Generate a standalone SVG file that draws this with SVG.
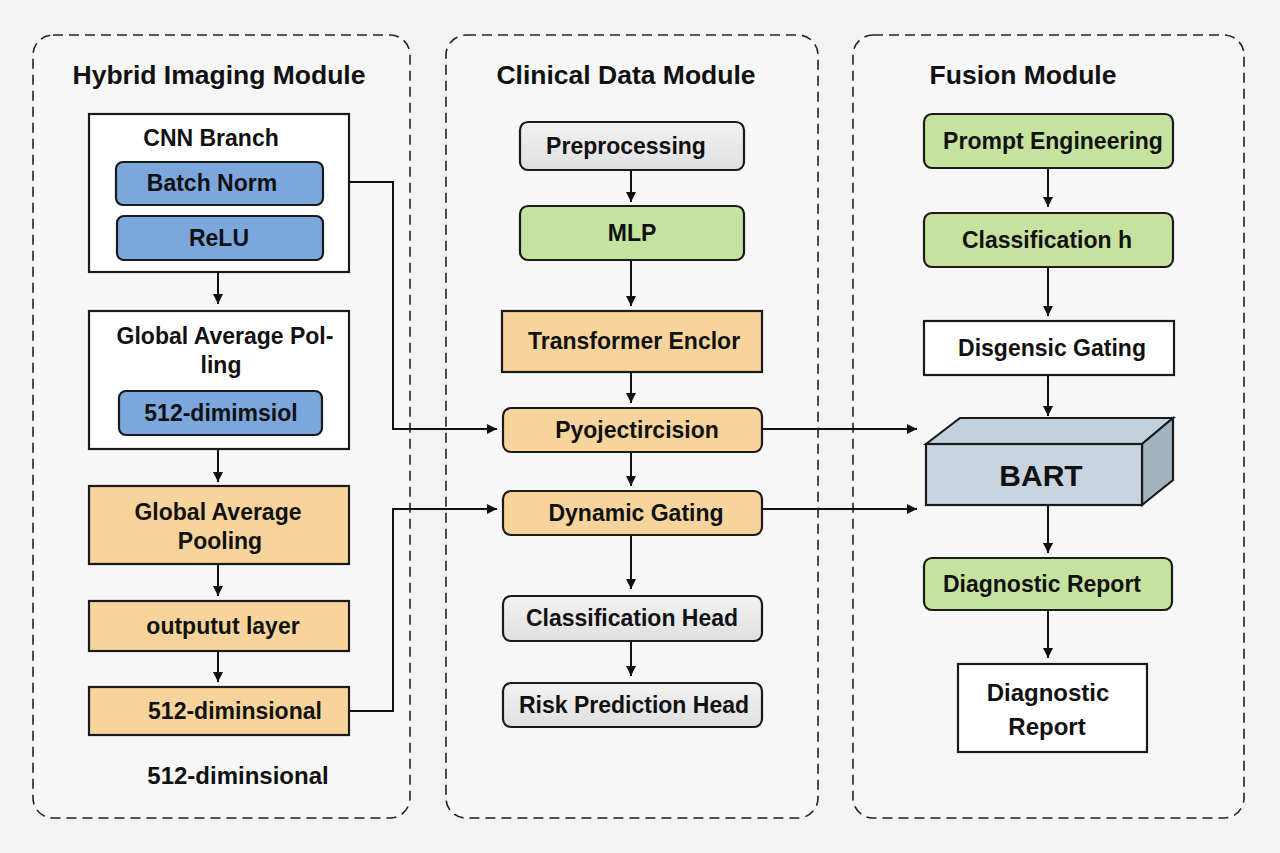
<svg xmlns="http://www.w3.org/2000/svg" width="1280" height="853" viewBox="0 0 1280 853">
<defs>
<style>
.panel{fill:#f7f7f7;stroke:#222;stroke-width:1.6;stroke-dasharray:10 6}
.t{font-family:"Liberation Sans",Arial,sans-serif;font-weight:bold;fill:#111;text-anchor:middle}
.title{font-size:26.5px}
.n{font-size:23px}
.box{stroke:#1a1a1a;stroke-width:2.2}
.white{fill:#ffffff}
.blue{fill:#7ba7dc}
.orange{fill:#f7d49b}
.green{fill:#c5e39f}
.gray{fill:url(#gg)}
.c{fill:none;stroke:#111;stroke-width:2}
</style>
<linearGradient id="gg" x1="0" y1="0" x2="0" y2="1"><stop offset="0" stop-color="#f2f2f2"/><stop offset="1" stop-color="#e0e0e0"/></linearGradient>
<marker id="ah" viewBox="0 0 10 10" refX="10" refY="5" markerWidth="10" markerHeight="10" markerUnits="userSpaceOnUse" orient="auto"><path d="M0,0 L10,5 L0,10 Z" fill="#111"/></marker>
</defs>
<rect width="1280" height="853" fill="#f3f3f3"/>

<g id="panels">
<rect class="panel" x="33" y="35" width="377" height="783" rx="20"/>
<rect class="panel" x="446" y="35" width="372" height="783" rx="20"/>
<rect class="panel" x="853" y="35" width="391" height="783" rx="20"/>
<text class="t title" x="219" y="84">Hybrid Imaging Module</text>
<text class="t title" x="626" y="84">Clinical Data Module</text>
<text class="t title" x="1023" y="84">Fusion Module</text>
</g>

<g id="connectors">
<line class="c" x1="218" y1="273" x2="218" y2="304" marker-end="url(#ah)"/>
<line class="c" x1="218" y1="449" x2="218" y2="482" marker-end="url(#ah)"/>
<line class="c" x1="218" y1="564" x2="218" y2="596" marker-end="url(#ah)"/>
<line class="c" x1="218" y1="651" x2="218" y2="682" marker-end="url(#ah)"/>
<polyline class="c" points="323,182 393,182 393,429 497,429" marker-end="url(#ah)"/>
<polyline class="c" points="349,711 393,711 393,509 497,509" marker-end="url(#ah)"/>
<line class="c" x1="631" y1="170" x2="631" y2="202" marker-end="url(#ah)"/>
<line class="c" x1="631" y1="260" x2="631" y2="306" marker-end="url(#ah)"/>
<line class="c" x1="631" y1="372" x2="631" y2="403" marker-end="url(#ah)"/>
<line class="c" x1="631" y1="452" x2="631" y2="486" marker-end="url(#ah)"/>
<line class="c" x1="631" y1="535" x2="631" y2="589" marker-end="url(#ah)"/>
<line class="c" x1="631" y1="641" x2="631" y2="676" marker-end="url(#ah)"/>
<line class="c" x1="762" y1="429" x2="917" y2="429" marker-end="url(#ah)"/>
<line class="c" x1="762" y1="509" x2="917" y2="509" marker-end="url(#ah)"/>
<line class="c" x1="1048" y1="168" x2="1048" y2="207" marker-end="url(#ah)"/>
<line class="c" x1="1048" y1="267" x2="1048" y2="316" marker-end="url(#ah)"/>
<line class="c" x1="1048" y1="375" x2="1048" y2="416" marker-end="url(#ah)"/>
<line class="c" x1="1048" y1="505" x2="1048" y2="553" marker-end="url(#ah)"/>
<line class="c" x1="1048" y1="610" x2="1048" y2="658" marker-end="url(#ah)"/>
</g>

<g id="cnn-branch">
<rect class="box white" x="89" y="114" width="260" height="158"/>
<text class="t n" x="211" y="146">CNN Branch</text>
</g>
<g id="batch-norm">
<rect class="box blue" x="116" y="162" width="207" height="43" rx="7"/>
<text class="t n" x="212" y="191">Batch Norm</text>
</g>
<g id="relu">
<rect class="box blue" x="117" y="216" width="206" height="44" rx="7"/>
<text class="t n" x="219" y="246">ReLU</text>
</g>
<g id="gap-white">
<rect class="box white" x="89" y="311" width="260" height="138"/>
<text class="t n" x="225" y="344">Global Average Pol-</text>
<text class="t n" x="221" y="373">ling</text>
</g>
<g id="dim-blue">
<rect class="box blue" x="119" y="391" width="203" height="44" rx="7"/>
<text class="t n" x="221" y="421">512-dimimsiol</text>
</g>
<g id="gap-orange">
<rect class="box orange" x="89" y="486" width="260" height="78"/>
<text class="t n" x="218" y="520">Global Average</text>
<text class="t n" x="220" y="549">Pooling</text>
</g>
<g id="output-layer">
<rect class="box orange" x="89" y="601" width="260" height="50"/>
<text class="t n" x="223" y="634">outputut layer</text>
</g>
<g id="dim-orange">
<rect class="box orange" x="89" y="687" width="260" height="48"/>
<text class="t n" x="235" y="719">512-diminsional</text>
</g>
<g id="dim-label">
<text class="t" style="font-size:24px" x="238" y="784">512-diminsional</text>
</g>

<g id="preprocessing">
<rect class="box gray" x="520" y="122" width="224" height="48" rx="8"/>
<text class="t n" x="626" y="154">Preprocessing</text>
</g>
<g id="mlp">
<rect class="box green" x="520" y="206" width="224" height="54" rx="8"/>
<text class="t n" x="632" y="241">MLP</text>
</g>
<g id="transformer">
<rect class="box orange" x="502" y="311" width="260" height="61"/>
<text class="t n" x="634" y="349">Transformer Enclor</text>
</g>
<g id="projection">
<rect class="box orange" x="503" y="408" width="259" height="44" rx="8"/>
<text class="t n" x="637" y="438">Pyojectircision</text>
</g>
<g id="dynamic-gating">
<rect class="box orange" x="503" y="491" width="259" height="44" rx="8"/>
<text class="t n" x="636" y="521">Dynamic Gating</text>
</g>
<g id="classification-head">
<rect class="box gray" x="503" y="596" width="259" height="45" rx="8"/>
<text class="t n" x="632" y="626">Classification Head</text>
</g>
<g id="risk-head">
<rect class="box gray" x="503" y="683" width="259" height="44" rx="8"/>
<text class="t n" x="634" y="713">Risk Prediction Head</text>
</g>

<g id="prompt">
<rect class="box green" x="924" y="114" width="249" height="54" rx="8"/>
<text class="t n" x="1053" y="149">Prompt Engineering</text>
</g>
<g id="classification-h">
<rect class="box green" x="924" y="213" width="249" height="54" rx="8"/>
<text class="t n" x="1047" y="248">Classification h</text>
</g>
<g id="disgensic">
<rect class="box white" x="924" y="321" width="250" height="54"/>
<text class="t n" x="1052" y="356">Disgensic Gating</text>
</g>
<g id="bart">
<polygon class="box" fill="#c3d1de" points="926,444 960,418 1173,418 1142,444"/>
<polygon class="box" fill="#a4b3c0" points="1142,444 1173,418 1173,480 1142,505"/>
<rect class="box" fill="#c8d5e1" x="926" y="444" width="216" height="61"/>
<text class="t" style="font-size:30px" x="1041" y="486">BART</text>
</g>
<g id="diag-green">
<rect class="box green" x="924" y="558" width="248" height="52" rx="8"/>
<text class="t n" x="1042" y="592">Diagnostic Report</text>
</g>
<g id="diag-white">
<rect class="box white" x="958" y="664" width="189" height="88"/>
<text class="t" style="font-size:24px" x="1048" y="701">Diagnostic</text>
<text class="t" style="font-size:24px" x="1047" y="735">Report</text>
</g>
</svg>
